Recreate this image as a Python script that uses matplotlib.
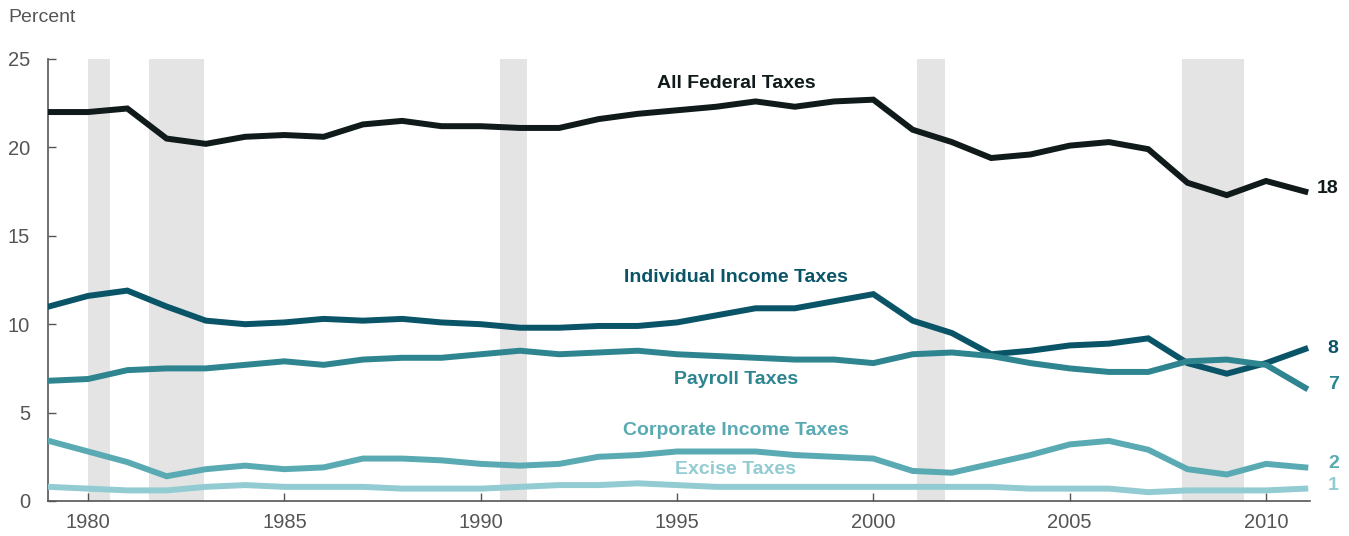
import numpy as np
import matplotlib.pyplot as plt

years = np.arange(1979, 2012)
all_fed = [22.0, 22.0, 22.2, 20.5, 20.2, 20.6, 20.7, 20.6, 21.3, 21.5, 21.2,
           21.2, 21.1, 21.1, 21.6, 21.9, 22.1, 22.3, 22.6, 22.3, 22.6, 22.7,
           21.0, 20.3, 19.4, 19.6, 20.1, 20.3, 19.9, 18.0, 17.3, 18.1, 17.5]
individual = [11.0, 11.6, 11.9, 11.0, 10.2, 10.0, 10.1, 10.3, 10.2, 10.3, 10.1,
              10.0, 9.8, 9.8, 9.9, 9.9, 10.1, 10.5, 10.9, 10.9, 11.3, 11.7,
              10.2, 9.5, 8.3, 8.5, 8.8, 8.9, 9.2, 7.8, 7.2, 7.8, 8.6]
payroll = [6.8, 6.9, 7.4, 7.5, 7.5, 7.7, 7.9, 7.7, 8.0, 8.1, 8.1,
           8.3, 8.5, 8.3, 8.4, 8.5, 8.3, 8.2, 8.1, 8.0, 8.0, 7.8,
           8.3, 8.4, 8.2, 7.8, 7.5, 7.3, 7.3, 7.9, 8.0, 7.7, 6.4]
corporate = [3.4, 2.8, 2.2, 1.4, 1.8, 2.0, 1.8, 1.9, 2.4, 2.4, 2.3,
             2.1, 2.0, 2.1, 2.5, 2.6, 2.8, 2.8, 2.8, 2.6, 2.5, 2.4,
             1.7, 1.6, 2.1, 2.6, 3.2, 3.4, 2.9, 1.8, 1.5, 2.1, 1.9]
excise = [0.8, 0.7, 0.6, 0.6, 0.8, 0.9, 0.8, 0.8, 0.8, 0.7, 0.7,
          0.7, 0.8, 0.9, 0.9, 1.0, 0.9, 0.8, 0.8, 0.8, 0.8, 0.8,
          0.8, 0.8, 0.8, 0.7, 0.7, 0.7, 0.5, 0.6, 0.6, 0.6, 0.7]
recessions = [(1980.0, 1980.55), (1981.55, 1982.95), (1990.5, 1991.17),
              (2001.1, 2001.82), (2007.85, 2009.45)]

names = ["All Federal Taxes", "Individual Income Taxes", "Payroll Taxes",
         "Corporate Income Taxes", "Excise Taxes"]
series = [all_fed, individual, payroll, corporate, excise]
colors = ["#101a1b", "#0a5468", "#2e8590", "#5aaab3", "#93cbd2"]
label_y = [23.6, 12.65, 6.9, 4.0, 1.8]
end_labels = ["18", "8", "7", "2", "1"]
end_y = [17.7, 8.6, 6.6, 2.1, 0.85]

plt.rcParams['font.family'] = ['Liberation Sans', 'DejaVu Sans']

fig = plt.figure(figsize=(13.49, 5.36), dpi=100)
ax = fig.add_axes([48 / 1349, 1 - 501 / 536, (1310 - 48) / 1349, (501 - 59) / 536])

# recession shading
for a, b in recessions:
    ax.axvspan(a, b, color="#e4e4e4", lw=0, zorder=0)

for vals, c in zip(series, colors):
    ax.plot(years, vals, color=c, lw=4.3, solid_joinstyle="miter", zorder=3)

for name, c, y in zip(names, colors, label_y):
    ax.text(1996.5, y, name, color=c, fontsize=14, fontweight="bold",
            ha="center", va="center")

for lab, c, y in zip(end_labels, colors, end_y):
    ax.text(2011.85, y, lab, color=c, fontsize=14, fontweight="bold",
            ha="right", va="center", clip_on=False)

ax.set_xlim(1978.98, 2011.12)
ax.set_ylim(0, 25)
ax.set_xticks([1980, 1985, 1990, 1995, 2000, 2005, 2010])
ax.set_yticks([0, 5, 10, 15, 20, 25])
ax.tick_params(direction="in", length=6, width=1, color="#555555",
               labelcolor="#555555", labelsize=14.5)
ax.tick_params(axis="y", pad=13)
ax.tick_params(axis="x", pad=9)
for s in ["top", "right"]:
    ax.spines[s].set_visible(False)
for s in ["left", "bottom"]:
    ax.spines[s].set_color("#555555")
    ax.spines[s].set_linewidth(1.2)

fig.text(8 / 1349, 1 - 18 / 536, "Percent", color="#555555", fontsize=14,
         ha="left", va="center")

fig.savefig("out.png", dpi=100)
